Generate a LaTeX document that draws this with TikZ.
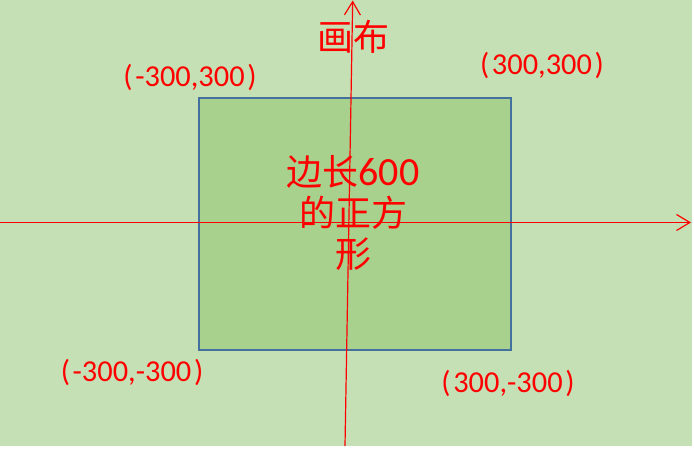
\documentclass[tikz,border=0pt]{standalone}
\usepackage{fontspec}
\setmainfont{Carlito}
\newfontfamily\cjk{Noto Sans CJK SC}
\usetikzlibrary{arrows.meta}
\definecolor{bggreen}{HTML}{C5E0B4}
\definecolor{sqgreen}{HTML}{A9D18E}
\definecolor{sqblue}{HTML}{41719C}
\tikzset{
  axis/.style={draw=red, line width=0.9pt, -{Straight Barb[length=10pt,width=12pt,line width=0.9pt]}},
  coordlabel/.style={text=red, font=\fontsize{22.8pt}{25pt}\selectfont, inner sep=0pt},
  cjklabel/.style={text=red, font=\fontsize{27pt}{31pt}\selectfont\cjk, inner sep=0pt},
  squarebox/.style={draw=sqblue, fill=sqgreen, line width=1.5pt}
}
\begin{document}
\begin{tikzpicture}[x=0.75pt,y=-0.75pt]
\useasboundingbox (0,0) rectangle (694,449);
\fill[white] (0,0) rectangle (694,449);
\fill[bggreen] (0,0) rectangle (692,446);
\node[squarebox, minimum width=312*0.75pt, minimum height=252*0.75pt, anchor=north west, inner sep=0pt] (sq) at (198,97) {};
\coordinate (hstart) at (0,222.5);
\coordinate (hend) at (691,222.5);
\coordinate (vstart) at (345,446);
\coordinate (vend) at (352.7,0.5);
\draw[axis] (hstart) -- (hend);
\draw[axis] (vstart) -- (vend);
\node[cjklabel] (canvas) at (353,37) {画布};
\node[cjklabel, align=center] (center) at (353,213) {边长{\rmfamily\fontsize{30pt}{31pt}\selectfont 600}\\的正方\\形};
\node[coordlabel] (tl) at (190,77) {(\kern2pt-300,300\kern2pt)};
\node[coordlabel] (tr) at (542,65) {(\kern2pt300,300\kern2pt)};
\node[coordlabel] (bl) at (132,372) {(\kern2pt-300,-300\kern2pt)};
\node[coordlabel] (br) at (508,383) {(\kern2pt300,-300\kern2pt)};
\end{tikzpicture}
\end{document}
